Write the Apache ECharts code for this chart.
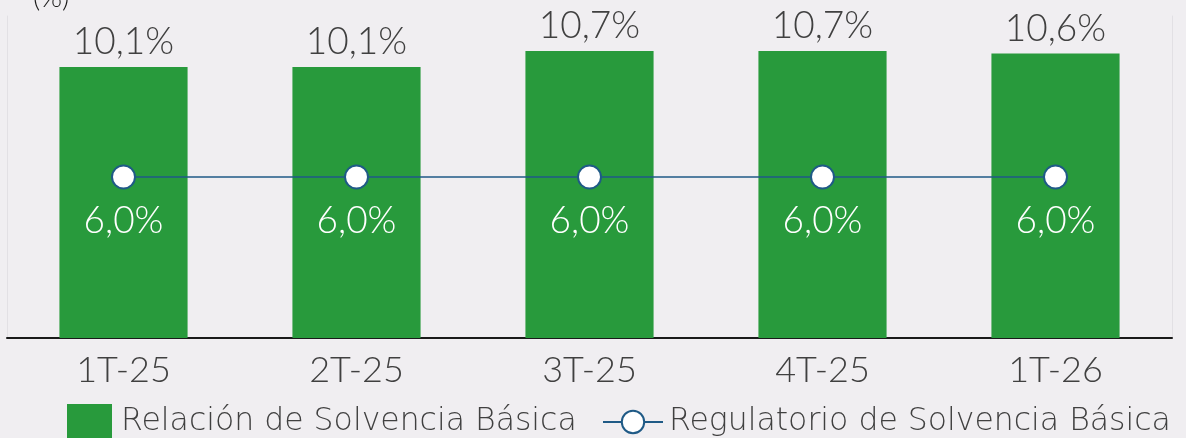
<!DOCTYPE html>
<html>
<head>
<meta charset="utf-8">
<script src="https://cdn.jsdelivr.net/npm/echarts@6/dist/echarts.min.js"></script>
<style>
html, body { margin: 0; padding: 0; background: #f0eef1; }
#chart { width: 1186px; height: 438px; }
</style>
</head>
<body>
<div id="chart"></div>
<script>
// periodos y valores (%)
var categories = ['1T-25', '2T-25', '3T-25', '4T-25', '1T-26'];
var solvencia = [10.1, 10.1, 10.7, 10.7, 10.6];
var regulatorio = [6.0, 6.0, 6.0, 6.0, 6.0];
var seriesNames = ['Relación de Solvencia Básica', 'Regulatorio de Solvencia Básica'];

var FONT = 'Lato';
var LEGEND_FONT = 'DejaVu Sans';
var fmt = function (p) {
    return p.value.toFixed(1).replace('.', ',') + '%';
};

var chart = echarts.init(document.getElementById('chart'));
chart.setOption({
    backgroundColor: '#f0eef1',
    animation: false,
    textStyle: { fontFamily: FONT, fontWeight: 300 },
    grid: {
        left: 7,
        right: 14,
        top: 16,
        bottom: 100
    },
    graphic: [{
        type: 'text',
        left: 33,
        top: -16,
        style: { text: '(%)', fontSize: 28, fill: '#1a1a1a', fontFamily: FONT, fontWeight: 300 }
    }],
    legend: [{
        data: [{ name: seriesNames[0], icon: 'rect' }],
        left: 67,
        top: 404,
        padding: 0,
        itemWidth: 45,
        itemHeight: 36,
        textStyle: { fontSize: 31.5, color: '#404040', fontFamily: LEGEND_FONT, fontWeight: 200, padding: [3, 0, 0, 4] }
    }, {
        data: [seriesNames[1]],
        left: 602,
        top: 406,
        padding: 0,
        itemWidth: 60,
        itemHeight: 28,
        textStyle: { fontSize: 31.5, color: '#404040', fontFamily: LEGEND_FONT, fontWeight: 200, padding: [3, 0, 0, 1] }
    }],
    xAxis: {
        type: 'category',
        data: categories,
        axisLine: { lineStyle: { color: '#1a1a1a', width: 2 } },
        axisTick: { show: false },
        axisLabel: { fontSize: 36, color: '#404040', margin: 14, fontFamily: FONT, fontWeight: 300 }
    },
    yAxis: [{
        type: 'value',
        min: 0,
        max: 12,
        interval: 2,
        axisLine: { show: true, lineStyle: { color: '#e2e0e4', width: 1 } },
        axisTick: { show: false },
        axisLabel: { show: false },
        splitLine: { show: false }
    }, {
        type: 'value',
        position: 'right',
        min: 0,
        max: 12,
        interval: 2,
        axisLine: { show: true, lineStyle: { color: '#e2e0e4', width: 1 } },
        axisTick: { show: false },
        axisLabel: { show: false },
        splitLine: { show: false }
    }],
    series: [{
        name: seriesNames[0],
        type: 'bar',
        data: solvencia,
        barWidth: '55%',
        itemStyle: { color: '#289a3c' },
        label: {
            show: true,
            position: 'top',
            distance: 6,
            fontSize: 37,
            color: '#404040',
            fontFamily: FONT,
            fontWeight: 300,
            formatter: fmt
        }
    }, {
        name: seriesNames[1],
        type: 'line',
        data: regulatorio,
        symbol: 'circle',
        symbolSize: 23,
        lineStyle: { color: '#1f5a86', width: 1.5 },
        itemStyle: { color: '#ffffff', borderColor: '#1f5a86', borderWidth: 2 },
        label: {
            show: true,
            position: 'bottom',
            distance: 13,
            fontSize: 37,
            color: '#ffffff',
            fontFamily: FONT,
            fontWeight: 300,
            formatter: fmt
        },
        z: 3
    }]
});
</script>
</body>
</html>
